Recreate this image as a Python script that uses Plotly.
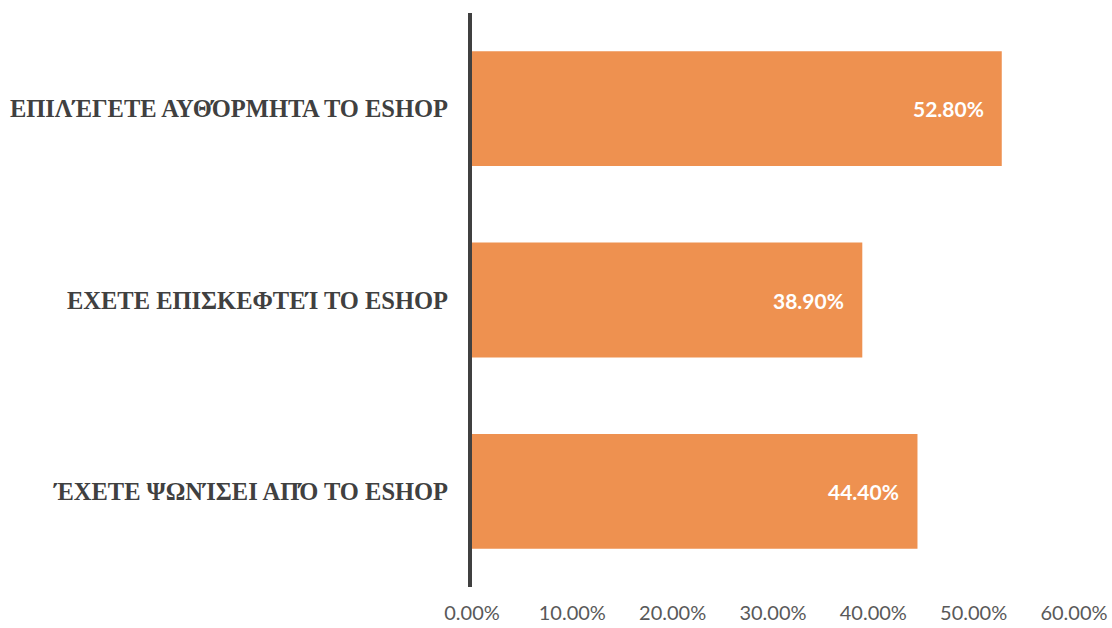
import plotly.graph_objects as go

# Survey categories (bottom to top) and shares in percent
categories = [
    "ΈΧΕΤΕ ΨΩΝΊΣΕΙ ΑΠΌ ΤΟ ESHOP",
    "ΕΧΕΤΕ ΕΠΙΣΚΕΦΤΕΊ ΤΟ ESHOP",
    "ΕΠΙΛΈΓΕΤΕ ΑΥΘΌΡΜΗΤΑ ΤΟ ESHOP",
]
values = [44.4, 38.9, 52.8]
tick_vals = [0, 10, 20, 30, 40, 50, 60]
tick_text = ["0.00%", "10.00%", "20.00%", "30.00%", "40.00%", "50.00%", "60.00%"]

bar_color = "#EE9150"

fig = go.Figure(
    go.Bar(
        x=values,
        y=categories,
        orientation="h",
        marker=dict(color=bar_color, line=dict(width=0)),
        hoverinfo="skip",
    )
)

# Value labels inside the bar ends
for cat, v in zip(categories, values):
    fig.add_annotation(
        x=v, y=cat, text=f"<b>{v:.2f}%</b>",
        showarrow=False, xanchor="right", xshift=-16,
        font=dict(family="Lato, 'Open Sans', sans-serif", size=21, color="white"),
    )

fig.update_layout(
    width=1112, height=628,
    margin=dict(l=472, r=38, t=13, b=41),
    paper_bgcolor="white", plot_bgcolor="white",
    bargap=0.40,
    showlegend=False,
    xaxis=dict(
        range=[0, 60], tickvals=tick_vals, ticktext=tick_text,
        showgrid=False, zeroline=False, showline=False, automargin=False,
        ticks="outside", ticklen=8, tickcolor="rgba(0,0,0,0)",
        tickfont=dict(family="Lato, 'Open Sans', sans-serif", size=20, color="#595959"),
    ),
    yaxis=dict(
        showgrid=False, zeroline=False, automargin=False,
        showline=True, linecolor="#404040", linewidth=4,
        ticks="", ticklabelstandoff=15,
        tickfont=dict(family="'Liberation Serif', 'Times New Roman', serif", size=24.5, color="#404040"),
    ),
)

# Bold category labels
fig.update_yaxes(ticktext=[f"<b>{c}</b>" for c in categories], tickvals=categories)

fig.write_html("out.html")
